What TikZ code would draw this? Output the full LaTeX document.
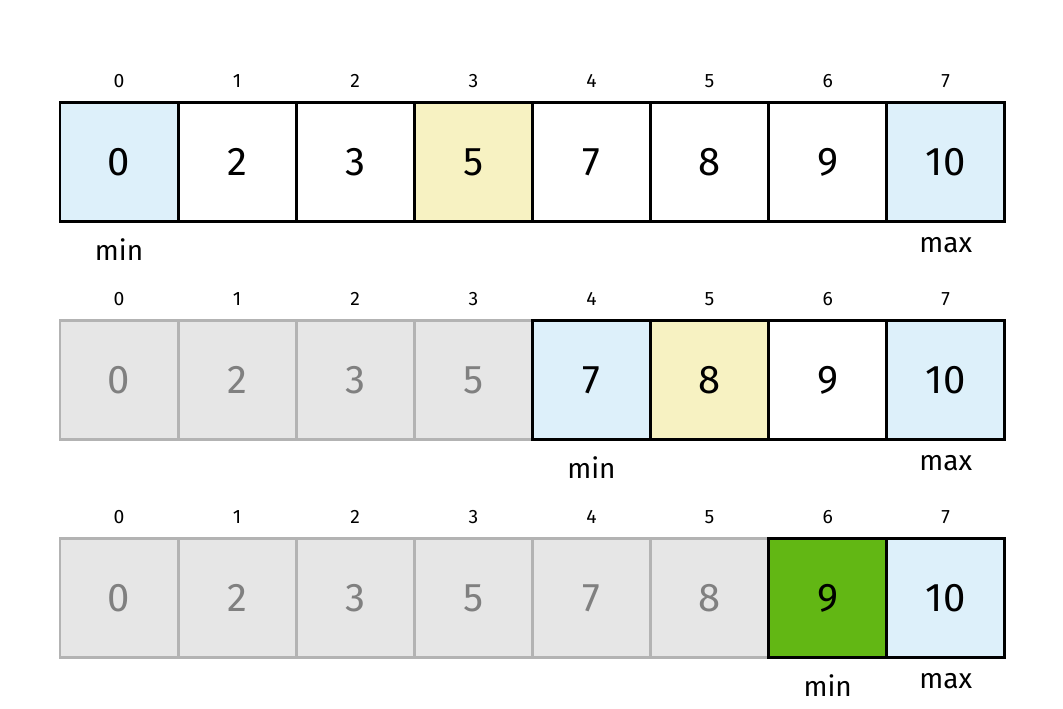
\documentclass[tikz,border=0pt]{standalone}
\usepackage{fontspec}
\setmainfont{Fira Sans}
\usetikzlibrary{positioning}
\definecolor{endfill}{HTML}{DDF0FA}
\definecolor{midfill}{HTML}{F7F2C2}
\definecolor{hitfill}{HTML}{62B714}
\definecolor{donefill}{HTML}{E6E6E6}
\definecolor{doneline}{HTML}{B3B3B3}
\definecolor{donetext}{HTML}{808080}

\begin{document}
\begin{tikzpicture}[x=0.75pt, y=-0.75pt,
    cell/.style={draw=black, line width=2.2pt, minimum size=88.6pt, inner sep=0pt, outer sep=0pt,
        font=\fontsize{30}{32}\selectfont},
    plaincell/.style={fill=white},
    endcell/.style={fill=endfill},
    midcell/.style={fill=midfill},
    hitcell/.style={fill=hitfill},
    donecell/.style={fill=donefill, draw=doneline, text=donetext},
    idx/.style={inner sep=0pt, font=\fontsize{14.5}{16}\selectfont},
    tag/.style={inner sep=0pt, font=\fontsize{21}{24}\selectfont}]
    \useasboundingbox (0,0) rectangle (1063,709);

    % --- Row 1: full range ---
    \foreach \val/\kind [count=\i from 0] in
        {0/endcell, 2/plaincell, 3/plaincell, 5/midcell, 7/plaincell, 8/plaincell, 9/plaincell, 10/endcell}
        \node[cell, \kind] (a\i) at (119.05+118.1*\i, 162) {\val};

    % --- Row 2: left half discarded ---
    \foreach \val/\kind [count=\i from 0] in
        {0/donecell, 2/donecell, 3/donecell, 5/donecell, 7/endcell, 8/midcell, 9/plaincell, 10/endcell}
        \node[cell, \kind] (b\i) at (119.05+118.1*\i, 380) {\val};

    % --- Row 3: hit ---
    \foreach \val/\kind [count=\i from 0] in
        {0/donecell, 2/donecell, 3/donecell, 5/donecell, 7/donecell, 8/donecell, 9/hitcell, 10/endcell}
        \node[cell, \kind] (c\i) at (119.05+118.1*\i, 598) {\val};

    % --- Indices ---
    \foreach \r in {a, b, c}
        \foreach \i in {0,...,7}
            \node[idx, above=11.25pt of \r\i] {\i};

    % --- min / max markers ---
    \node[tag, below=29.25pt of a0, anchor=base] {min};
    \node[tag, below=23.25pt of a7, anchor=base] {max};
    \node[tag, below=29.25pt of b4, anchor=base] {min};
    \node[tag, below=23.25pt of b7, anchor=base] {max};
    \node[tag, below=29.25pt of c6, anchor=base] {min};
    \node[tag, below=23.25pt of c7, anchor=base] {max};
\end{tikzpicture}
\end{document}
